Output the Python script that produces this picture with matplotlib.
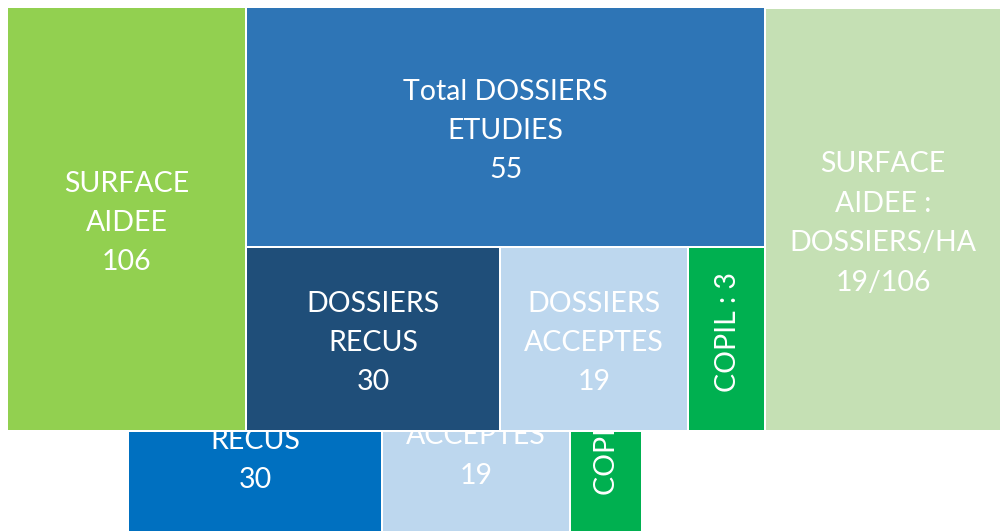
import matplotlib.pyplot as plt
from matplotlib.patches import Rectangle
from matplotlib.transforms import Bbox, TransformedBbox

plt.rcParams['font.family'] = ['Lato', 'DejaVu Sans']

# tiles of the upper row (labels, values, fill colours)
labels = ['SURFACE\nAIDEE', 'Total DOSSIERS\nETUDIES', 'DOSSIERS\nRECUS',
          'DOSSIERS\nACCEPTES', 'COPIL :', 'SURFACE\nAIDEE :\nDOSSIERS/HA']
values = ['106', '55', '30', '19', '3', '19/106']
colors = ['#92D050', '#2E75B6', '#1F4E79', '#BDD7EE', '#00B050', '#C5E0B4']

# second copy of the bottom row, mostly hidden under the first one
lower_labels = ['DOSSIERS\nRECUS', 'DOSSIERS\nACCEPTES', 'COPIL :']
lower_values = ['30', '19', '3']
lower_colors = ['#0070C0', '#BDD7EE', '#00B050']

# layout in pixels (x0, y0, x1, y1), y going down
boxes = [(8, 8, 245, 430), (247, 8, 764, 246), (247, 248, 499, 430),
         (501, 248, 687, 430), (689, 248, 764, 430), (766, 9, 1000, 430)]
lower_boxes = [(129, 350, 381, 540), (383, 350, 569, 540), (571, 350, 641, 540)]
lower_text_y = [436, 431, 441]

FS = 20.5
LINE = 39.5  # px between lines


def draw_tile(ax, box, label, value, color, cy=None, clip=None, z=2):
    x0, y0, x1, y1 = box
    r = Rectangle((x0, y0), x1 - x0, y1 - y0, facecolor=color,
                  edgecolor='none', zorder=z)
    ax.add_patch(r)
    cx = (x0 + x1) / 2
    if cy is None:
        cy = (y0 + y1) / 2 - 1
    cy += 5  # va='center' counts the descenders
    texts = []
    if label.startswith('COPIL'):
        # narrow tile: one rotated line
        texts.append(ax.text(cx + 1, cy - 11, label + ' ' + value, rotation=90,
                             ha='center', va='center', color='white',
                             fontsize=FS, zorder=z + 0.5))
    else:
        lines = label.split('\n') + [value]
        n = len(lines)
        for i, s in enumerate(lines):
            y = cy + (i - (n - 1) / 2) * LINE
            texts.append(ax.text(cx, y, s, ha='center', va='center',
                                 color='white', fontsize=FS, zorder=z + 0.5))
    if clip is not None:
        r.set_clip_box(clip)
        for t in texts:
            t.set_clip_box(clip)
            t.set_clip_on(True)


fig = plt.figure(figsize=(10, 5.31), dpi=100)
ax = fig.add_axes([0, 0, 1, 1])
ax.set_xlim(0, 1000)
ax.set_ylim(531, 0)
ax.axis('off')

clip = TransformedBbox(Bbox([[0, 432], [1000, 560]]), ax.transData)
for b, l, v, c, ty in zip(lower_boxes, lower_labels, lower_values,
                          lower_colors, lower_text_y):
    draw_tile(ax, b, l, v, c, cy=ty, clip=clip, z=1)

for b, l, v, c in zip(boxes, labels, values, colors):
    draw_tile(ax, b, l, v, c, z=3)

fig.savefig('out.png', dpi=100)
